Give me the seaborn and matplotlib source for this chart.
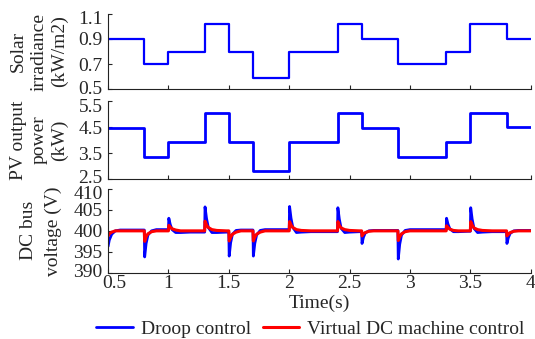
import numpy as np
import pandas as pd
import matplotlib
matplotlib.use("Agg")
import matplotlib.pyplot as plt
import matplotlib.transforms as mtransforms
import seaborn as sns

# step inputs
step_times = [0.5, 0.8, 1.0, 1.3, 1.5, 1.7, 2.0, 2.4, 2.6, 2.9, 3.3, 3.5, 3.8, 4.0]
irradiance = [0.9, 0.7, 0.8, 1.02, 0.8, 0.585, 0.8, 1.02, 0.9, 0.7, 0.8, 1.02, 0.9, 0.9]
pv_power = [4.48, 3.36, 3.93, 5.02, 3.93, 2.82, 3.93, 5.02, 4.48, 3.36, 3.93, 5.02, 4.5, 4.5]

# DC bus voltage: start-up transient, then samples after each step change
start_t = [0.5, 0.51, 0.53, 0.56, 0.6, 0.7]
start_droop = [396.3, 397.8, 399.2, 400.0, 400.2, 400.2]
start_vdcm = [398.8, 399.3, 399.7, 400.0, 400.0, 400.0]

event_times = [0.8, 1.0, 1.3, 1.5, 1.7, 2.0, 2.4, 2.6, 2.9, 3.3, 3.5, 3.8]
sample_offsets = [0.0, 0.003, 0.015, 0.03, 0.06, 0.1, 0.18]
droop_v = [
    [400.2, 393.8, 397.0, 399.0, 400.0, 400.3, 400.3],
    [400.3, 403.0, 401.5, 400.3, 399.6, 399.6, 399.7],
    [399.7, 405.7, 403.0, 400.8, 399.6, 399.6, 399.7],
    [399.7, 394.0, 397.2, 399.2, 400.1, 400.2, 400.2],
    [400.2, 394.0, 397.0, 399.0, 400.1, 400.3, 400.3],
    [400.3, 405.8, 403.0, 400.8, 399.6, 399.7, 399.8],
    [399.8, 405.5, 402.8, 400.6, 399.6, 399.7, 399.8],
    [399.8, 397.0, 398.5, 399.5, 400.0, 400.1, 400.1],
    [400.1, 393.3, 396.8, 399.0, 400.1, 400.3, 400.3],
    [400.3, 403.0, 401.6, 400.5, 399.8, 399.8, 399.9],
    [399.9, 405.5, 402.8, 400.6, 399.6, 399.7, 399.8],
    [399.8, 397.0, 398.4, 399.4, 400.0, 400.1, 400.1],
]
vdcm_v = [
    [400.0, 397.5, 398.6, 399.3, 399.8, 400.0, 400.0],
    [400.0, 401.3, 400.9, 400.5, 400.2, 400.0, 400.0],
    [400.0, 402.3, 401.4, 400.8, 400.3, 400.1, 400.0],
    [400.0, 397.6, 398.5, 399.2, 399.7, 400.0, 400.0],
    [400.0, 397.6, 398.5, 399.2, 399.7, 400.0, 400.0],
    [400.0, 402.2, 401.4, 400.8, 400.3, 400.1, 400.0],
    [400.0, 402.2, 401.3, 400.7, 400.3, 400.1, 400.0],
    [400.0, 398.8, 399.3, 399.6, 399.9, 400.0, 400.0],
    [400.0, 397.7, 398.6, 399.3, 399.8, 400.0, 400.0],
    [400.0, 401.2, 400.8, 400.4, 400.1, 400.0, 400.0],
    [400.0, 402.2, 401.4, 400.7, 400.3, 400.1, 400.0],
    [400.0, 398.8, 399.2, 399.6, 399.9, 400.0, 400.0],
]
end_t = 4.0

# build voltage table
t_all = list(start_t)
d_all = list(start_droop)
r_all = list(start_vdcm)
for te, dv, rv in zip(event_times, droop_v, vdcm_v):
    t_all += [te + o for o in sample_offsets]
    d_all += dv
    r_all += rv
t_all.append(end_t)
d_all.append(d_all[-1])
r_all.append(r_all[-1])
volt = pd.DataFrame({"t": t_all, "droop": d_all, "vdcm": r_all})
steps = pd.DataFrame({"t": step_times, "irr": irradiance, "pv": pv_power})

sns.set_style("ticks")
plt.rcParams["font.family"] = ["Liberation Serif", "DejaVu Serif"]
plt.rcParams["xtick.direction"] = "in"
plt.rcParams["ytick.direction"] = "in"

fs = 14
fig = plt.figure(figsize=(5.35, 3.39), dpi=100)
ax1 = fig.add_axes([0.202, 0.737, 0.79, 0.222])
ax2 = fig.add_axes([0.202, 0.472, 0.79, 0.230])
ax3 = fig.add_axes([0.202, 0.195, 0.79, 0.248])

blue = "#0000ff"
red = "#ff0000"

sns.lineplot(data=steps, x="t", y="irr", ax=ax1, color=blue, lw=1.6,
             drawstyle="steps-post", estimator=None)
sns.lineplot(data=steps, x="t", y="pv", ax=ax2, color=blue, lw=2.0,
             drawstyle="steps-post", estimator=None)
sns.lineplot(data=volt, x="t", y="droop", ax=ax3, color=blue, lw=2.0,
             estimator=None, sort=False, label="Droop control")
sns.lineplot(data=volt, x="t", y="vdcm", ax=ax3, color=red, lw=2.2,
             estimator=None, sort=False, label="Virtual DC machine control")

ax1.set_ylim(0.5, 1.1)
ax1.set_yticks([0.5, 0.7, 0.9, 1.1])
ax2.set_ylim(2.5, 5.5)
ax2.set_yticks([2.5, 3.5, 4.5, 5.5])
ax3.set_ylim(390, 410)
ax3.set_yticks([390, 395, 400, 405, 410])

labels = ["Solar\nirradiance\n(kW/m2)", "PV output\npower\n(kW)", "DC bus\nvoltage (V)"]
label_x = [-0.095, -0.095, -0.108]
spacing = [1.25, 1.25, 1.6]
for ax, lab, lx, ls in zip([ax1, ax2, ax3], labels, label_x, spacing):
    ax.set_xlim(0.5, 4.0)
    ax.set_xticks([0.5, 1, 1.5, 2, 2.5, 3, 3.5, 4])
    ax.set_ylabel(lab, fontsize=fs, linespacing=ls)
    ax.yaxis.set_label_coords(lx, 0.5)
    ax.set_xlabel("")
    ax.tick_params(axis="y", labelsize=fs, length=3, width=0.8, pad=4)
    ax.tick_params(axis="x", labelsize=fs, length=3, width=0.8, pad=1.5)
    sns.despine(ax=ax)
    for s in ["left", "bottom"]:
        ax.spines[s].set_color("#222222")
        ax.spines[s].set_linewidth(0.8)
    # nudge end tick labels inwards a little, as in the original
    ylabs = ax.get_yticklabels()
    ylabs[-1].set_transform(ylabs[-1].get_transform() +
                            mtransforms.ScaledTranslation(0, -0.04, fig.dpi_scale_trans))
    ylabs[0].set_transform(ylabs[0].get_transform() +
                           mtransforms.ScaledTranslation(0, 0.02, fig.dpi_scale_trans))

ax1.tick_params(labelbottom=False)
ax2.tick_params(labelbottom=False)
ax3.set_xticklabels(["0.5", "1", "1.5", "2", "2.5", "3", "3.5", "4"])
xl0 = ax3.get_xticklabels()[0]
xl0.set_transform(xl0.get_transform() +
                  mtransforms.ScaledTranslation(0.06, 0, fig.dpi_scale_trans))
ax3.set_xlabel("Time(s)", fontsize=fs, labelpad=2)

handles, texts = ax3.get_legend_handles_labels()
ax3.get_legend().remove()
fig.legend(handles, texts, loc="center", bbox_to_anchor=(0.58, 0.03),
           ncol=2, frameon=False, fontsize=fs, handlelength=1.9,
           handletextpad=0.4, columnspacing=0.6, borderpad=0.1)

fig.savefig("out.png", dpi=100)
